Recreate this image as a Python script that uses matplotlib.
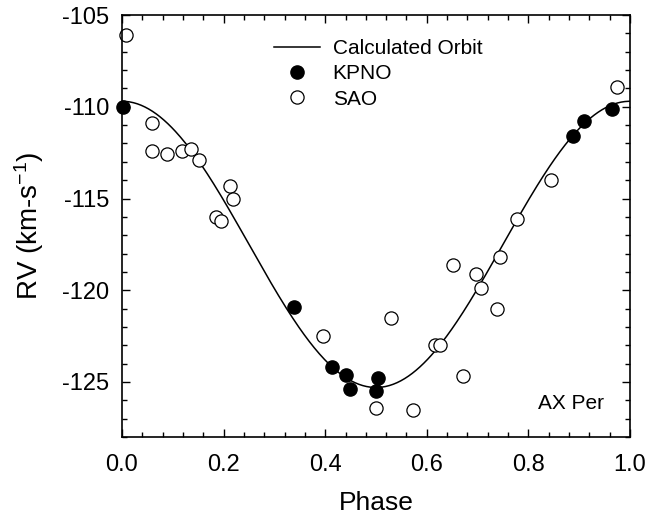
import numpy as np
import matplotlib
matplotlib.use("Agg")
import matplotlib.pyplot as plt
from matplotlib.ticker import MultipleLocator

plt.rcParams['font.family'] = ['Liberation Sans', 'DejaVu Sans']
plt.rcParams['mathtext.default'] = 'regular'
plt.rcParams['axes.unicode_minus'] = False

# KPNO velocities
kpno_phase = [0.003, 0.339, 0.414, 0.440, 0.448, 0.500, 0.504, 0.888, 0.909, 0.965]
kpno_rv = [-110.0, -120.9, -124.2, -124.6, -125.4, -125.5, -124.8, -111.6, -110.8, -110.1]

# SAO velocities
sao_phase = [0.008, 0.060, 0.060, 0.089, 0.118, 0.136, 0.152, 0.186, 0.194, 0.213,
             0.219, 0.395, 0.501, 0.530, 0.572, 0.617, 0.626, 0.651, 0.672, 0.696,
             0.707, 0.738, 0.745, 0.777, 0.844, 0.975]
sao_rv = [-106.1, -110.9, -112.4, -112.6, -112.4, -112.3, -112.9, -116.0, -116.2, -114.3,
          -115.0, -122.5, -126.4, -121.5, -126.5, -123.0, -123.0, -118.6, -124.7, -119.1,
          -119.9, -121.0, -118.2, -116.1, -114.0, -108.9]

# circular orbit elements
gamma = -117.5
K = 7.8
phase0 = 0.0

ph = np.linspace(0, 1, 400)
rv_orbit = gamma + K * np.cos(2 * np.pi * (ph - phase0))

fig = plt.figure(figsize=(6.54, 5.18), dpi=100)
ax = fig.add_axes([0.1865, 0.1563, 0.7768, 0.8147])

ax.plot(ph, rv_orbit, color='black', lw=1.1, label='Calculated Orbit')
ax.plot(kpno_phase, kpno_rv, 'o', color='black', ms=9.5, label='KPNO', clip_on=False)
ax.plot(sao_phase, sao_rv, 'o', mfc='white', mec='black', mew=0.9, ms=9.5,
        label='SAO', clip_on=False)

ax.set_xlim(0, 1)
ax.set_ylim(-128, -105)
ax.xaxis.set_major_locator(MultipleLocator(0.2))
ax.xaxis.set_minor_locator(MultipleLocator(0.04))
ax.yaxis.set_major_locator(MultipleLocator(5))
ax.yaxis.set_minor_locator(MultipleLocator(1))
ax.tick_params(which='both', direction='in', top=True, right=True, labelsize=17, width=1)
ax.tick_params(which='major', length=6)
ax.tick_params(axis='x', which='major', pad=12)
ax.tick_params(axis='y', which='major', pad=9)
ax.tick_params(which='minor', length=3.5)
for s in ax.spines.values():
    s.set_linewidth(1.2)

ax.set_xlabel('Phase', fontsize=19, labelpad=11)
ax.set_ylabel('RV (km-s$^{-1}$)', fontsize=20, labelpad=12)

ax.legend(loc='upper left', bbox_to_anchor=(0.30, 0.943), frameon=False, fontsize=15,
          handlelength=2.2, handletextpad=0.6, labelspacing=0.3, borderpad=0,
          borderaxespad=0)

ax.text(0.948, 0.08, 'AX Per', transform=ax.transAxes, ha='right', va='center', fontsize=15)

fig.savefig('out.png', dpi=100)
